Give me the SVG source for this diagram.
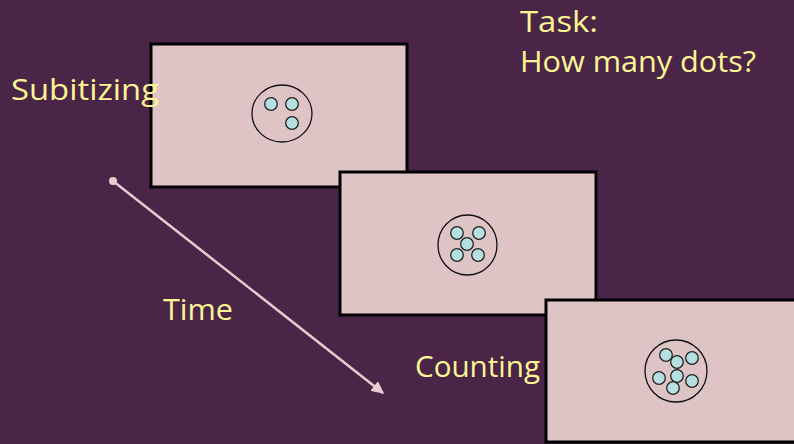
<svg xmlns="http://www.w3.org/2000/svg" width="794" height="444" viewBox="0 0 794 444">
  <defs>
    <style>
      .frame { fill: #dfc4c6; stroke: #000; stroke-width: 3; }
      .ring { fill: none; stroke: #111; stroke-width: 1.3; }
      .dot { fill: #b5dfe0; stroke: #222; stroke-width: 1.3; }
      .label { fill: #fdf594; font-family: "Comic Sans MS", "Open Sans", "DejaVu Sans", sans-serif; font-size: 29px; }
      .timeline { stroke: #e6cbcf; stroke-width: 2.5; fill: none; }
    </style>
    <marker id="arrowhead" viewBox="0 0 10 10" refX="9" refY="5" markerWidth="5" markerHeight="5" orient="auto" markerUnits="strokeWidth">
      <path d="M0,0 L10,5 L0,10 z" fill="#e6cbcf"/>
    </marker>
  </defs>

  <rect width="794" height="444" fill="#4a2548"/>

  <!-- first display: three dots -->
  <g id="display-subitizing">
    <rect class="frame" x="151" y="44" width="256" height="143"/>
    <ellipse class="ring" cx="282" cy="113.5" rx="30" ry="28.5"/>
    <circle class="dot" cx="271" cy="104" r="6.3"/>
    <circle class="dot" cx="292" cy="104" r="6.3"/>
    <circle class="dot" cx="292" cy="123" r="6.3"/>
  </g>

  <!-- second display: five dots -->
  <g id="display-middle">
    <rect class="frame" x="340" y="172" width="256" height="143"/>
    <ellipse class="ring" cx="467.5" cy="245" rx="29.5" ry="30"/>
    <circle class="dot" cx="457" cy="233" r="6.3"/>
    <circle class="dot" cx="479" cy="233" r="6.3"/>
    <circle class="dot" cx="467" cy="244" r="6.3"/>
    <circle class="dot" cx="457" cy="255" r="6.3"/>
    <circle class="dot" cx="478" cy="255" r="6.3"/>
  </g>

  <!-- third display: seven dots -->
  <g id="display-counting">
    <rect class="frame" x="546" y="300" width="256" height="142"/>
    <ellipse class="ring" cx="676" cy="371" rx="31" ry="31"/>
    <circle class="dot" cx="666" cy="355" r="6.3"/>
    <circle class="dot" cx="677" cy="362" r="6.3"/>
    <circle class="dot" cx="692" cy="358" r="6.3"/>
    <circle class="dot" cx="677" cy="376" r="6.3"/>
    <circle class="dot" cx="659" cy="378" r="6.3"/>
    <circle class="dot" cx="692" cy="381" r="6.3"/>
    <circle class="dot" cx="673" cy="388" r="6.3"/>
  </g>

  <!-- time axis -->
  <g id="connectors">
    <circle cx="113" cy="181" r="4" fill="#e6cbcf"/>
    <line class="timeline" x1="113" y1="181" x2="383" y2="393" marker-end="url(#arrowhead)"/>
  </g>

  <g id="labels">
    <text class="label" x="11" y="100" textLength="148" lengthAdjust="spacingAndGlyphs">Subitizing</text>
    <text class="label" x="520" y="32" textLength="78" lengthAdjust="spacingAndGlyphs">Task:</text>
    <text class="label" x="520" y="72" textLength="236" lengthAdjust="spacingAndGlyphs">How many dots?</text>
    <text class="label" x="163" y="320" textLength="70" lengthAdjust="spacingAndGlyphs">Time</text>
    <text class="label" x="415" y="377" textLength="125" lengthAdjust="spacingAndGlyphs">Counting</text>
  </g>
</svg>
